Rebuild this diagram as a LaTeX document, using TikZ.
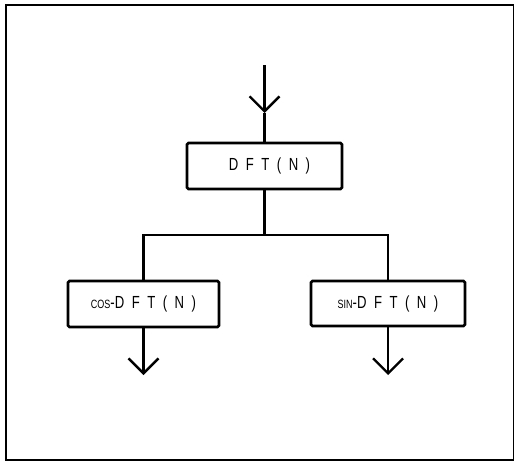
\documentclass[tikz,border=0pt]{standalone}
\usepackage{fontspec}
\newfontfamily\lblfont[FakeStretch=0.75]{Liberation Sans}
\usetikzlibrary{arrows.meta}
\newcommand\gapl{\hspace{7.5pt}}
\newcommand\smallpre[1]{{\fontsize{12}{12}\selectfont #1}}
\begin{document}
\begin{tikzpicture}[x=1pt,y=-1pt,
  frame/.style={line width=1.6pt},
  wire/.style={line width=2.3pt},
  stage/.style={draw, line width=2.7pt, rounded corners=1.5pt, inner sep=0pt,
    font=\lblfont\fontsize{17.5}{17.5}\selectfont},
  tip/.style={-{Straight Barb[length=15pt,width=30pt,line width=2.3pt]}}]
\useasboundingbox (0,0) rectangle (515,463);
\draw[frame] (6,5) rectangle (513.5,460);

% processing stages
\node[stage, minimum width=155pt, minimum height=46pt] (dft) at (264.5,166)
  {\hspace{10pt}D\gapl F\gapl T\gapl (\gapl N\gapl )};
\node[stage, minimum width=151pt, minimum height=46pt] (cosdft) at (143.5,304)
  {\smallpre{COS}-D\gapl F\gapl T\gapl (\gapl N\gapl )};
\node[stage, minimum width=154pt, minimum height=45pt] (sindft) at (388,303.5)
  {\smallpre{SIN}-D\gapl F\gapl T\gapl (\gapl N\gapl )\hspace{8pt}};

% input
\coordinate (in) at (264.5,65);
\coordinate (inmid) at (264.5,113);
\draw[wire, tip] (in) -- (inmid);
\draw[wire] (inmid) -- (dft.north);

% split into cosine and sine parts
\coordinate (split) at (264.5,235);
\draw[wire] (dft.south) -- (split);
\draw[wire] (cosdft.north) |- (split) -| (sindft.north);

% outputs
\coordinate (cosout) at (143.5,375);
\coordinate (sinout) at (388,375);
\draw[wire, tip] (cosdft.south) -- (cosout);
\draw[wire, tip] (sindft.south) -- (sinout);
\end{tikzpicture}
\end{document}
